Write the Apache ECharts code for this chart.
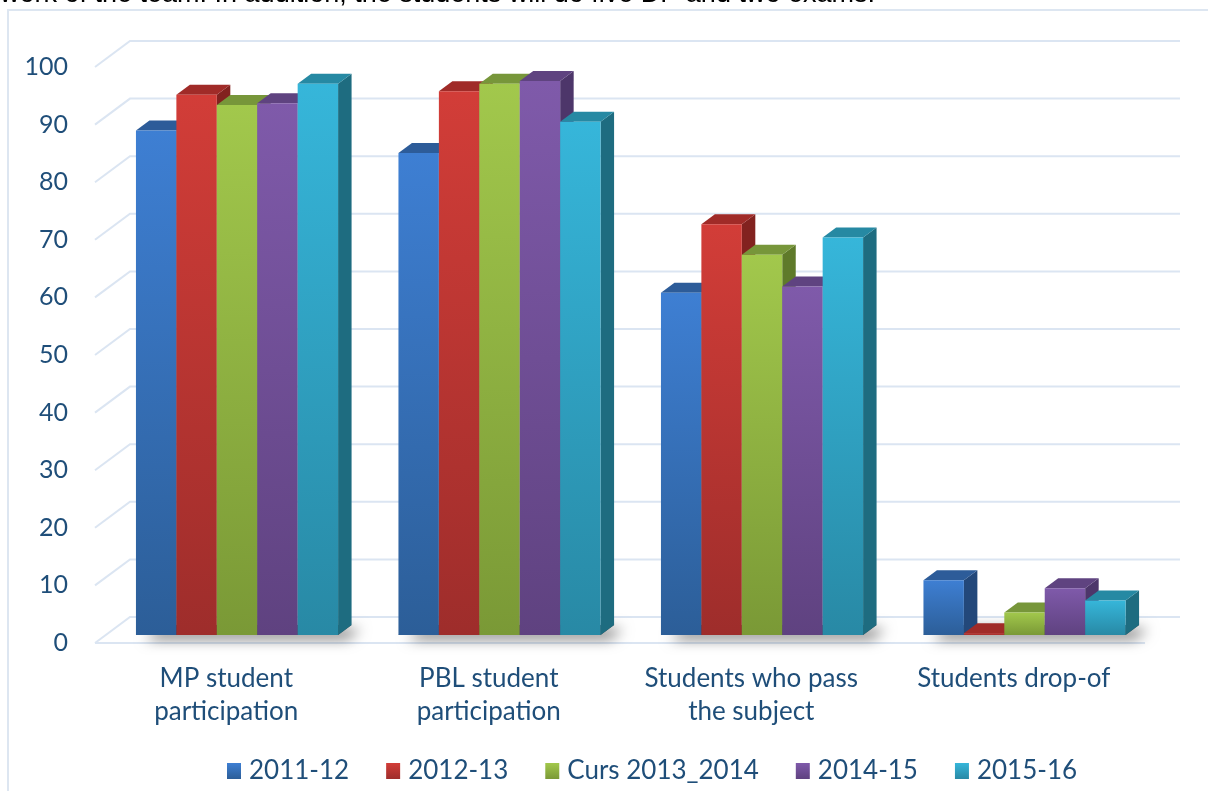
<!DOCTYPE html>
<html>
<head>
<meta charset="utf-8">
<script src="https://cdn.jsdelivr.net/npm/echarts@6/dist/echarts.min.js"></script>
<style>
  html, body { margin: 0; padding: 0; background: #fff; }
  #chart { width: 1208px; height: 791px; }
</style>
</head>
<body>
<div id="chart"></div>
<script>
const categories = ['MP student\nparticipation', 'PBL student\nparticipation', 'Students who pass\nthe subject', 'Students drop-of'];
const seriesNames = ['2011-12', '2012-13', 'Curs 2013_2014', '2014-15', '2015-16'];
const v2011 = [87.6, 83.7, 59.4, 9.5];
const v2012 = [93.8, 94.4, 71.3, 0.3];
const v2013 = [92.0, 95.7, 66.0, 3.9];
const v2014 = [92.3, 96.2, 60.5, 8.1];
const v2015 = [95.7, 89.1, 69.0, 6.0];
const yTicks = [0, 10, 20, 30, 40, 50, 60, 70, 80, 90, 100];

const allValues = [v2011, v2012, v2013, v2014, v2015];

// front gradient top, front gradient bottom, top face, side face
const palette = [
  ['#3e7fd3', '#2c5e98', '#2d5c99', '#23487a'],
  ['#d23d38', '#9e2d2b', '#a02b28', '#82221f'],
  ['#a2c84c', '#7a9936', '#77963a', '#5f7a2a'],
  ['#7f5aaa', '#5f4280', '#5f4380', '#4d366a'],
  ['#36b6da', '#2889a5', '#2689a3', '#1e6c80']
];

const textColor = '#1f4e79';
const gridColor = '#dbe5f2';
const DX = 35, DY = -26;       // depth of floor / walls
const BDX = 13.5, BDY = -10;   // depth of a bar
const PLANE = 8 / 26;          // bar front plane inside the floor depth
const GROUP = 0.77;

function grad(c1, c2) {
  return new echarts.graphic.LinearGradient(0, 0, 0, 1, [
    { offset: 0, color: c1 }, { offset: 1, color: c2 }
  ]);
}

const chart = echarts.init(document.getElementById('chart'));

const wallSeries = {
  type: 'custom',
  name: 'walls',
  z: 1,
  silent: true,
  clip: false,
  data: yTicks.map(v => [0, v]),
  renderItem: function (params, api) {
    const cs = params.coordSys;
    const y = api.coord([0, api.value(1)])[1];
    const x0 = cs.x, x1 = cs.x + cs.width;
    const children = [{
      type: 'polyline',
      shape: { points: [[x0, y], [x0 + DX, y + DY], [x1 + DX, y + DY]] },
      style: { stroke: gridColor, lineWidth: 2, fill: null }
    }];
    if (api.value(1) === 0) {
      children.push({
        type: 'line',
        shape: { x1: x0, y1: y, x2: x1, y2: y },
        style: { stroke: gridColor, lineWidth: 2 }
      });
    }
    return { type: 'group', children: children };
  }
};

const shadowSeries = {
  type: 'custom',
  name: 'shadow',
  z: 2,
  silent: true,
  clip: false,
  data: categories.map((c, i) => [i, 0]),
  renderItem: function (params, api) {
    const base = api.coord([api.value(0), 0]);
    const bw = api.size([1, 0])[0];
    const g = bw * GROUP;
    const x0 = base[0] - g / 2 + DX * PLANE;
    const x1 = x0 + g;
    const yb = base[1] + DY * PLANE;
    return {
      type: 'polygon',
      shape: { points: [[x0, yb], [x1, yb], [x1 + BDX, yb + BDY], [x0 + BDX, yb + BDY]] },
      style: {
        fill: 'rgba(60,60,60,0.9)',
        shadowBlur: 14,
        shadowColor: 'rgba(0,0,0,0.6)',
        shadowOffsetX: 9,
        shadowOffsetY: 4
      }
    };
  }
};

function barSeries(idx) {
  const p = palette[idx];
  return {
    type: 'custom',
    name: seriesNames[idx],
    z: 3,
    clip: false,
    itemStyle: { color: grad(p[0], p[1]) },
    data: allValues[idx].map((v, i) => [i, v]),
    renderItem: function (params, api) {
      const cat = api.value(0), v = api.value(1);
      const base = api.coord([cat, 0]);
      const top = api.coord([cat, v]);
      const bw = api.size([1, 0])[0];
      const g = bw * GROUP;
      const w = g / 5;
      const x0 = base[0] - g / 2 + idx * w + DX * PLANE;
      const x1 = x0 + w;
      const yb = base[1] + DY * PLANE;
      const yt = top[1] + DY * PLANE;
      return {
        type: 'group',
        children: [
          {
            type: 'polygon',
            shape: { points: [[x1, yt], [x1 + BDX, yt + BDY], [x1 + BDX, yb + BDY], [x1, yb]] },
            style: { fill: p[3] }
          },
          {
            type: 'polygon',
            shape: { points: [[x0, yt], [x1, yt], [x1 + BDX, yt + BDY], [x0 + BDX, yt + BDY]] },
            style: { fill: p[2] }
          },
          {
            type: 'rect',
            shape: { x: x0, y: yt, width: w, height: Math.max(yb - yt, 0.5) },
            style: { fill: grad(p[0], p[1]) }
          }
        ]
      };
    }
  };
}

const option = {
  backgroundColor: '#ffffff',
  animation: false,
  graphic: [
    {
      type: 'rect',
      shape: { x: 8, y: 10, width: 1230, height: 820 },
      style: { fill: null, stroke: '#dde6f1', lineWidth: 2 },
      z: 0
    },
    {
      type: 'text',
      left: 0,
      top: -19,
      style: {
        text: 'work of the team. In addition, the students will do five DP and two exams.',
        font: '27px "Liberation Sans", Arial, sans-serif',
        fill: '#000'
      }
    }
  ],
  grid: { left: 95, right: 63, top: 67, bottom: 148 },
  legend: {
    left: 222,
    top: 753,
    itemWidth: 14,
    itemHeight: 16,
    itemGap: 37,
    icon: 'rect',
    data: seriesNames.map((n, i) => ({
      name: n,
      itemStyle: { color: grad(palette[i][0], palette[i][1]) }
    })),
    textStyle: { fontFamily: 'Lato', fontSize: 26, color: textColor, padding: [0, 0, 0, 3] }
  },
  xAxis: {
    type: 'category',
    data: categories,
    axisLine: { show: false },
    axisTick: { show: false },
    splitLine: { show: false },
    axisLabel: {
      interval: 0,
      margin: 19,
      fontFamily: 'Lato',
      fontSize: 26,
      lineHeight: 33,
      color: textColor
    }
  },
  yAxis: {
    type: 'value',
    min: 0,
    max: 100,
    interval: 10,
    axisLine: { show: false },
    axisTick: { show: false },
    splitLine: { show: false },
    axisLabel: {
      margin: 27,
      fontFamily: 'Lato',
      fontSize: 25,
      color: textColor
    }
  },
  series: [wallSeries, shadowSeries].concat(seriesNames.map((n, i) => barSeries(i)))
};

chart.setOption(option);
</script>
</body>
</html>
